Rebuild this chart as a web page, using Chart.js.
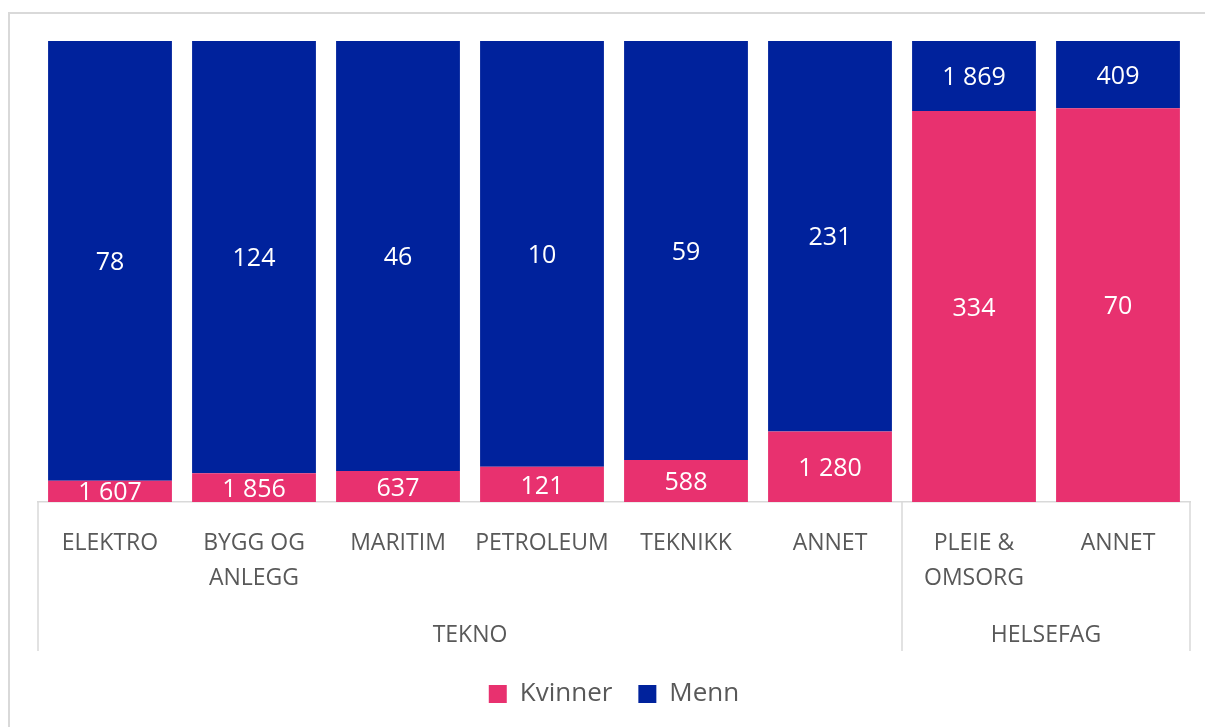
<!DOCTYPE html>
<html>
<head>
<meta charset="utf-8">
<script src="https://cdn.jsdelivr.net/npm/chart.js@4"></script>
<style>
  html, body { margin: 0; padding: 0; background: #fff; }
  #wrap { width: 1205px; height: 727px; position: relative; }
</style>
</head>
<body>
<div id="wrap"><canvas id="barChart" width="1205" height="727"></canvas></div>
<script>
// kategorier (nivå 1) og grupper (nivå 2)
var categories = [['ELEKTRO'], ['BYGG OG', 'ANLEGG'], ['MARITIM'], ['PETROLEUM'], ['TEKNIKK'], ['ANNET'], ['PLEIE &', 'OMSORG'], ['ANNET']];
var groups = ['TEKNO', 'HELSEFAG'];
var groupSizes = [6, 2];

// antall per kategori
var kvinner = [78, 124, 46, 10, 59, 231, 1869, 409];
var menn = [1607, 1856, 637, 121, 588, 1280, 334, 70];

// etikettene i figuren står på motsatt serie
var kvinnerLabels = ['1 607', '1 856', '637', '121', '588', '1 280', '334', '70'];
var mennLabels = ['78', '124', '46', '10', '59', '231', '1 869', '409'];

var pink = '#E8316F';
var blue = '#00229C';
var grey = '#595959';
var lineCol = '#D9D9D9';
var fontFam = '"Open Sans", Lato, sans-serif';

var pctK = [], pctM = [];
for (var i = 0; i < kvinner.length; i++) {
  var tot = kvinner[i] + menn[i];
  pctK.push(kvinner[i] / tot * 100);
  pctM.push(menn[i] / tot * 100);
}

var bgPlugin = {
  id: 'bg',
  beforeDraw: function(chart) {
    var ctx = chart.ctx;
    ctx.save();
    ctx.fillStyle = '#fff';
    ctx.fillRect(0, 0, chart.width, chart.height);
    ctx.strokeStyle = lineCol;
    ctx.lineWidth = 2;
    ctx.strokeRect(9, 13, chart.width + 20, chart.height + 20);
    ctx.restore();
  }
};

var labelPlugin = {
  id: 'labels',
  afterDatasetsDraw: function(chart) {
    var ctx = chart.ctx;
    ctx.save();
    ctx.fillStyle = '#fff';
    ctx.font = '25px ' + fontFam;
    ctx.textAlign = 'center';
    ctx.textBaseline = 'middle';
    chart.data.datasets.forEach(function(ds, di) {
      var meta = chart.getDatasetMeta(di);
      var txt = di === 0 ? kvinnerLabels : mennLabels;
      meta.data.forEach(function(bar, j) {
        ctx.fillText(txt[j], bar.x, (bar.y + bar.base) / 2 + 2);
      });
    });
    ctx.restore();
  }
};

var groupPlugin = {
  id: 'groups',
  afterDraw: function(chart) {
    var ctx = chart.ctx;
    var x = chart.scales.x;
    var half = (x.getPixelForValue(1) - x.getPixelForValue(0)) / 2;
    var top = chart.chartArea.bottom;
    var bottom = top + 149;
    ctx.save();
    ctx.strokeStyle = lineCol;
    ctx.lineWidth = 1.5;
    ctx.fillStyle = grey;
    ctx.font = '23px ' + fontFam;
    ctx.textAlign = 'center';
    ctx.textBaseline = 'middle';
    var start = 0;
    var edges = [x.getPixelForValue(0) - half];
    groups.forEach(function(g, gi) {
      var end = start + groupSizes[gi] - 1;
      var left = x.getPixelForValue(start) - half;
      var right = x.getPixelForValue(end) + half;
      edges.push(right);
      ctx.fillText(g, (left + right) / 2, top + 133);
      start = end + 1;
    });
    edges.forEach(function(e) {
      ctx.beginPath();
      ctx.moveTo(e, top);
      ctx.lineTo(e, bottom);
      ctx.stroke();
    });
    ctx.restore();
  }
};

var barChartCanvas = document.getElementById('barChart').getContext('2d');
var barChart = new Chart(barChartCanvas, {
  type: 'bar',
  data: {
    labels: categories,
    datasets: [{
      label: 'Kvinner',
      backgroundColor: pink,
      data: pctK,
      categoryPercentage: 1,
      barPercentage: 0.86
    }, {
      label: 'Menn',
      backgroundColor: blue,
      data: pctM,
      categoryPercentage: 1,
      barPercentage: 0.86
    }]
  },
  options: {
    responsive: false,
    animation: false,
    layout: { padding: { left: 38, right: 15, top: 41, bottom: 10 } },
    plugins: {
      tooltip: { enabled: false },
      legend: {
        position: 'bottom',
        labels: {
          color: grey,
          font: { family: fontFam, size: 26 },
          boxWidth: 18,
          boxHeight: 18,
          padding: 26
        }
      }
    },
    scales: {
      x: {
        stacked: true,
        grid: { display: false },
        border: { display: true, color: lineCol, width: 1.5 },
        ticks: {
          color: grey,
          font: { family: fontFam, size: 23, lineHeight: 1.52 },
          padding: 16,
          maxRotation: 0,
          autoSkip: false
        },
        afterFit: function(scale) { scale.height = 153; }
      },
      y: {
        stacked: true,
        display: false,
        min: 0,
        max: 100
      }
    }
  },
  plugins: [bgPlugin, labelPlugin, groupPlugin]
});
</script>
</body>
</html>
